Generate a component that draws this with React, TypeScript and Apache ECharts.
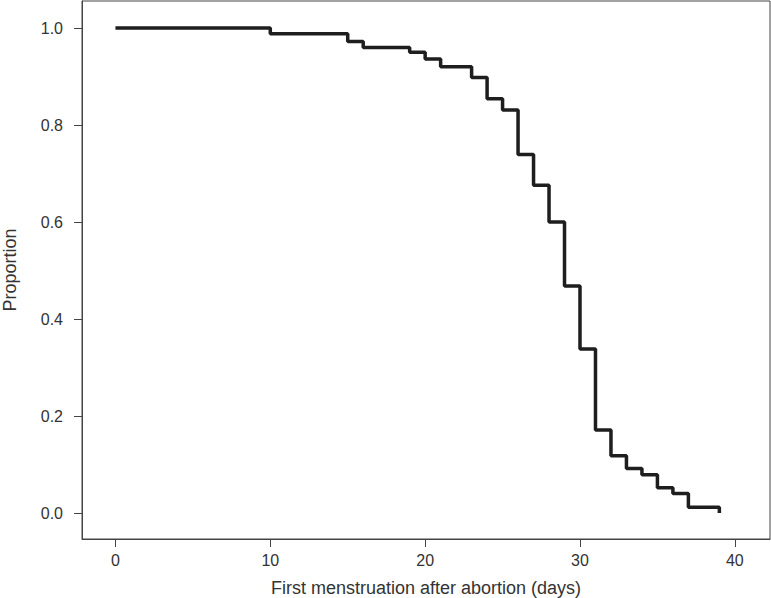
import React, { useEffect, useRef } from "react";
import * as echarts from "echarts";

const days = [0, 10, 15, 16, 19, 20, 21, 23, 24, 25, 26, 27, 28, 29, 30, 31, 32, 33, 34, 35, 36, 37, 39];
const proportion = [1.0, 0.988, 0.972, 0.96, 0.95, 0.936, 0.92, 0.898, 0.854, 0.831, 0.739, 0.676, 0.6, 0.468, 0.338, 0.171, 0.118, 0.092, 0.079, 0.052, 0.04, 0.012, 0.0];
const xTicks = [0, 10, 20, 30, 40];
const yTicks = [0, 0.2, 0.4, 0.6, 0.8, 1.0];

const FONT = "'Liberation Sans', Arial, Helvetica, sans-serif";

export default function App() {
  const ref = useRef<HTMLDivElement>(null);
  useEffect(() => {
    if (!ref.current) return;
    const chart = echarts.init(ref.current, null, { renderer: "svg" });
    const data = days.map((d, i) => [d, proportion[i]]);
    chart.setOption({
      animation: false,
      backgroundColor: "#ffffff",
      grid: {
        left: 82,
        right: 1,
        top: 1,
        bottom: 59,
        show: true,
        borderColor: "#444",
        borderWidth: 1,
        backgroundColor: "transparent",
        outerBoundsMode: "none",
        containLabel: false,
      },
      xAxis: {
        type: "value",
        min: -2.16,
        max: 42.27,
        name: "First menstruation after abortion (days)",
        nameLocation: "middle",
        nameGap: 40,
        nameTextStyle: { fontFamily: FONT, fontSize: 18, color: "#333" },
        axisLine: { show: true, onZero: false, lineStyle: { color: "#444", width: 1 } },
        axisTick: { show: true, length: 8, customValues: xTicks, lineStyle: { color: "#444" } },
        axisLabel: {
          customValues: xTicks,
          margin: 13,
          fontFamily: FONT,
          fontSize: 16,
          color: "#333",
        },
        splitLine: { show: false },
      },
      yAxis: {
        type: "value",
        min: -0.0536,
        max: 1.0557,
        name: "Proportion",
        nameLocation: "middle",
        nameGap: 63,
        nameRotate: 90,
        nameTextStyle: { fontFamily: FONT, fontSize: 18, color: "#333" },
        axisLine: { show: true, onZero: false, lineStyle: { color: "#444", width: 1 } },
        axisTick: { show: true, length: 8, customValues: yTicks, lineStyle: { color: "#444" } },
        axisLabel: {
          customValues: yTicks,
          margin: 19,
          fontFamily: FONT,
          fontSize: 16,
          color: "#333",
          formatter: (v: number) => v.toFixed(1),
        },
        splitLine: { show: false },
      },
      series: [
        {
          type: "line",
          step: "end",
          data,
          showSymbol: false,
          symbol: "none",
          lineStyle: { color: "#1e1e1e", width: 3.5 },
          itemStyle: { color: "#1e1e1e" },
        },
      ],
    });
    return () => chart.dispose();
  }, []);
  return <div ref={ref} style={{ width: 771, height: 598, position: "absolute", left: 0, top: 0 }} />;
}
